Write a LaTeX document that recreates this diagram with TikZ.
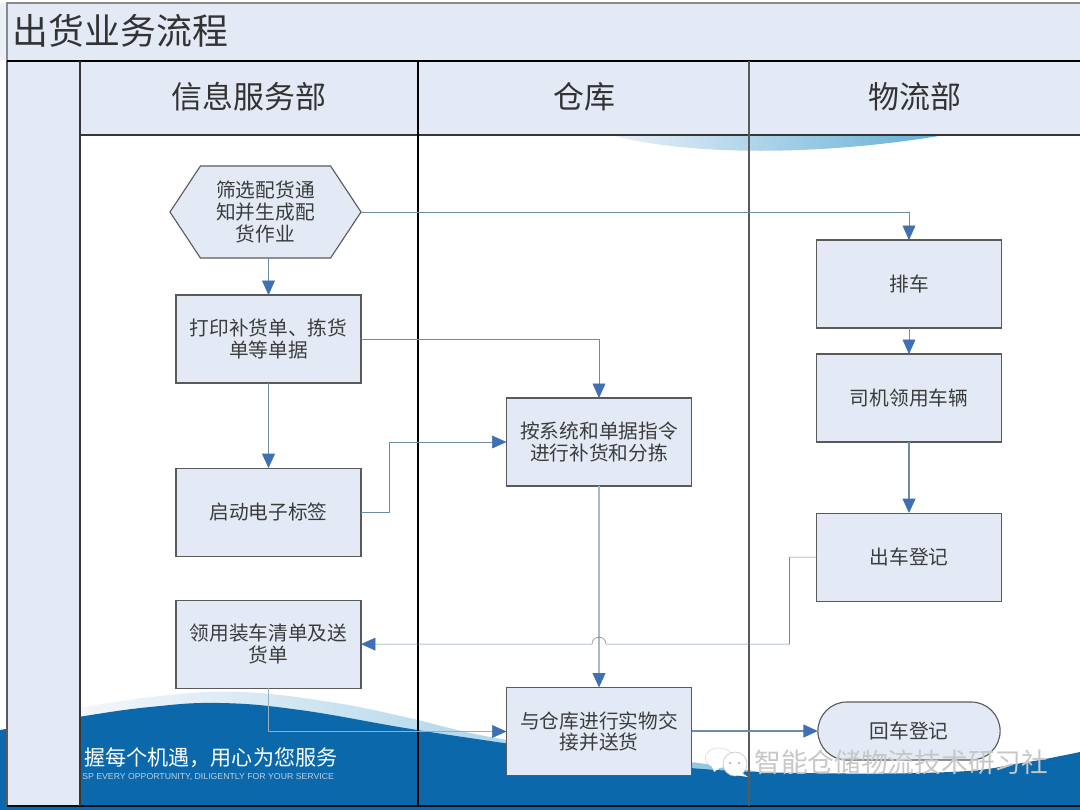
\documentclass[tikz,border=0pt]{standalone}
\usepackage{fontspec}
\usepackage{xcolor}
\usepackage{tikz}
\usetikzlibrary{shapes.symbols, shapes.misc, arrows.meta, positioning, calc}
\setmainfont{Noto Sans CJK SC}
\newfontfamily\latinfont{Liberation Sans}
\definecolor{cBand}{RGB}{227,234,245}
\definecolor{cSea}{RGB}{10,104,171}
\definecolor{cSky}{RGB}{95,175,215}
\definecolor{cTip}{RGB}{62,112,178}
\definecolor{cWire}{RGB}{112,140,160}
\definecolor{cEdge}{RGB}{90,90,90}
\definecolor{cText}{RGB}{60,60,60}
\tikzset{
	procbox/.style  ={rectangle, minimum width=4.625cm, minimum height=2.2cm, align=center, draw=cEdge, thick, fill=cBand, text=cText, outer sep=0pt, inner sep=1pt, font=\fontsize{14}{15.5}\selectfont},
	hexbox/.style   ={procbox, signal, signal to=west and east, signal pointer angle=113, minimum width=4.775cm, minimum height=2.3cm},
	termbox/.style  ={procbox, rounded rectangle, minimum width=4.625cm, minimum height=1.45cm},
	headtext/.style ={text=black!80, font=\fontsize{22}{25}\selectfont},
	flowline/.style ={-{Triangle[length=3.6mm, width=3.2mm, color=cTip]}, cWire, thin},
	flowwide/.style ={flowline, line width=1pt},
	laneline/.style ={black, line width=1pt},
}

\begin{document}
\begin{tikzpicture}[x=0.025cm, y=-0.025cm]
	\useasboundingbox (0,0) rectangle (1080,810);
	% sea waves behind the chart
	\fill[white] (0,0) rectangle (1080,810);
	\fill[cBand!70!white] (0,3) rectangle (7,60);
	\shade[left color=cBand!70!white, right color=cSky] (610,135) .. controls (690,156) and (820,156) .. (945,135) -- cycle;
	\shade[left color=cBand!40!white, right color=cSky!75!white] plot[smooth, tension=0.7] coordinates {(78,708) (160,696) (240,692) (330,702) (405,717) (490,737) (600,753) (690,762) (760,772)} -- (760,790) -- (78,790) -- cycle;
	\fill[cSea] plot[smooth, tension=0.7] coordinates {(0,730) (78,717) (150,707) (220,703) (300,710) (405,728) (490,741) (600,757) (690,768) (800,773) (950,772) (1022,763) (1080,752)} -- (1080,810) -- (0,810) -- cycle;
	% title, side and header bands
	\fill[cBand] (7,3) rectangle (1080,61);
	\fill[cBand] (7,61) rectangle (80,806);
	\fill[cBand] (80,61) rectangle (1080,135);
	\draw[cEdge!70, thick] (1080,3) -- (7,3) -- (7,61);
	\draw[cEdge, thick] (7,61) -- (7,806);
	\draw[black!85!cSea, line width=1pt] (7,806) -- (1080,806);
	\draw[laneline, line width=1.3pt] (7,61) -- (1080,61);
	\draw[cEdge!60!black, thick] (80,135) -- (1080,135);
	\draw[cEdge!60!black, thick] (80,61) -- (80,806);
	\draw[laneline] (418,61) -- (418,806);
	\draw[cEdge, thick] (749,61) -- (749,806);
	\node[anchor=west, text=black!80, font=\fontsize{25.5}{29}\selectfont] (title) at (8,31) {出货业务流程};
	\node[headtext] (laneinfo) at (249,97) {信息服务部};
	\node[headtext] (lanestore) at (584,97) {仓库};
	\node[headtext] (lanelogi) at (915,97) {物流部};
	% slogan on the sea
	\node[anchor=west, inner sep=0pt, text=white, font=\fontsize{15}{18}\selectfont] (slogan) at (84,758) {握每个机遇，用心为您服务};
	\node[anchor=west, inner sep=0pt, text=cBand!80!cSea, font=\latinfont\fontsize{6.2}{7.5}\selectfont] (sloganen) at (82,777) {SP EVERY OPPORTUNITY, DILIGENTLY FOR YOUR SERVICE};
	% steps of each lane
	\node[hexbox] (screen) at (265.5,212) {筛选配货通\\知并生成配\\货作业};
	\node[procbox, below=0.925cm of screen, xshift=0.075cm] (printlist) {打印补货单、拣货\\单等单据};
	\node[procbox, below=2.125cm of printlist] (label) {启动电子标签};
	\node[procbox, below=1.1cm of label] (loadlist) {领用装车清单及送\\货单};
	\node[procbox] (pick) at (599,442) {按系统和单据指令\\进行补货和分拣};
	\node[procbox] (handover) at (599,731.5) {与仓库进行实物交\\接并送货};
	\node[procbox] (dispatch) at (909,284) {排车};
	\node[procbox, below=0.65cm of dispatch] (driver) {司机领用车辆};
	\node[procbox, below=1.775cm of driver] (leave) {出车登记};
	\node[termbox] (back) at (909,731) {回车登记};
	% connectors
	\draw[flowline] (screen.east) -| (dispatch.north);
	\draw[flowline] (screen.south -| printlist.north) -- (printlist.north);
	\draw[flowline] (printlist.east) -| (pick.north);
	\draw[flowwide] (printlist.south) -- (label.north);
	\draw[flowline] (label.east) -- ++(28,0) |- (pick.west);
	\draw[flowwide, cWire!60] (pick.south) -- (handover.north);
	\draw[flowline] (dispatch.south) -- (driver.north);
	\draw[flowwide] (driver.south) -- (leave.north);
	\coordinate (hop) at (pick.south |- loadlist.east);
	\draw[flowline] (leave.west) -- ++(-27,0) |- ($(hop)+(7,0)$) arc (0:-180:7) -- (loadlist.east);
	\draw[flowline, cWire!70] (loadlist.south) |- (handover.west);
	\draw[flowwide] (handover.east |- back.west) -- (back.west);
	% account mark and its name
	\fill[white, draw=black!15] (719,758) ellipse (14 and 10);
	\fill[white] (711,764) -- (714,772) -- (722,766) -- cycle;
	\fill[white, draw=black!25] (735,764) ellipse (12 and 12);
	\fill[white] (741,772) -- (748,777) -- (735,775) -- cycle;
	\fill[black!35] (730,763) circle (1.1) (739,763) circle (1.1);
	\node[anchor=west, inner sep=0pt, text=black!22, font=\fontsize{19}{22}\selectfont] (account) at (754,762) {智能仓储物流技术研习社};
\end{tikzpicture}
\end{document}
